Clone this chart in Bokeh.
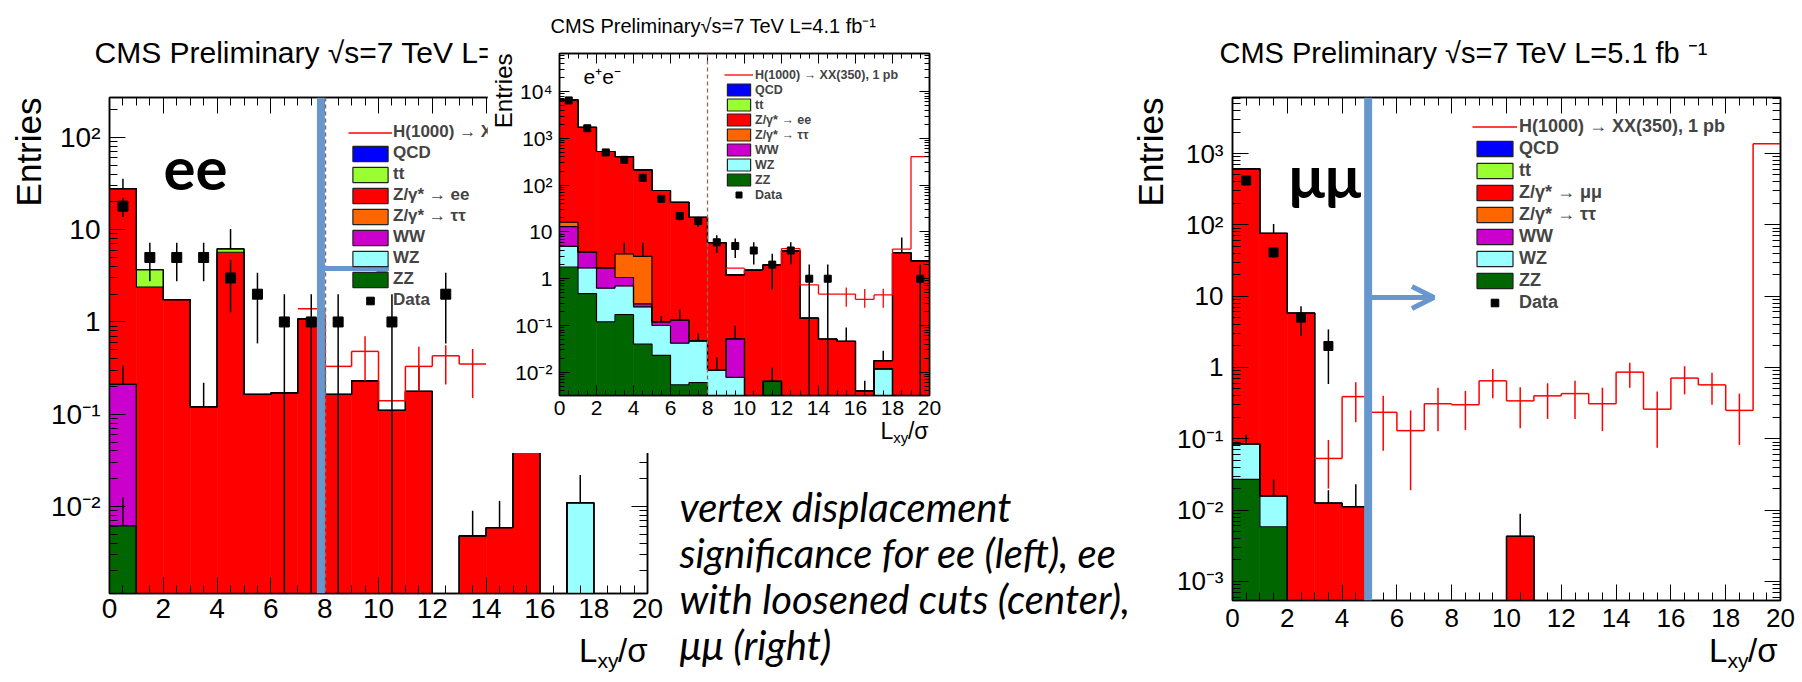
import math
import numpy as np
from bokeh.plotting import figure
from bokeh.models import (ColumnDataSource, FixedTicker, LinearAxis, LogAxis, Range1d,
                          Label, Legend, LegendItem, Span, Arrow, OpenHead,
                          CustomJSTickFormatter)
from bokeh.embed import file_html
from bokeh.resources import INLINE

nan = float("nan")

# ---------------- data ----------------
bin_lo = list(range(20))
x_major = [0, 2, 4, 6, 8, 10, 12, 14, 16, 18, 20]

# ee (left panel)
ee_ZZ  = [0.0062, 0, 0, 0, 0, 0, 0, 0, 0, 0, 0, 0, 0, 0, 0, 0, 0, 0, 0, 0]
ee_WZ  = [0, 0, 0, 0, 0, 0, 0, 0, 0, 0, 0, 0, 0, 0, 0, 0, 0, 0.011, 0, 0]
ee_WW  = [0.204, 0, 0, 0, 0, 0, 0, 0, 0, 0, 0, 0, 0, 0, 0, 0, 0, 0, 0, 0]
ee_Ztt = [0, 0, 0, 0, 0, 0, 0, 0, 0, 0, 0, 0, 0, 0, 0, 0, 0, 0, 0, 0]
ee_Zll = [27.6, 2.38, 1.75, 0.12, 5.7, 0.164, 0.17, 1.08, 0.164, 0.23, 0.11, 0.177, 0, 0.0048, 0.0059, 0.06, 0, 0, 0, 0]
ee_tt  = [0, 1.3, 0, 0, 0.5, 0, 0, 0, 0, 0, 0, 0, 0, 0, 0, 0, 0, 0, 0, 0]
ee_QCD = [0, 0, 0, 0, 0, 0, 0, 0, 0, 0, 0, 0, 0, 0, 0, 0, 0, 0, 0, 0]
ee_data = [18, 5, 5, 5, 3, 2, 1, 1, 1, 0, 1, 0, 2, 0, 0, 0, 0, 0, 0, 0]
ee_sig    = [nan, nan, nan, nan, nan, nan, nan, 1.39, 0.33, 0.48, 0.14, 0.33, 0.43, 0.35, nan, nan, nan, nan, nan, nan]
ee_sig_lo = [nan, nan, nan, nan, nan, nan, nan, nan, nan, 0.23, nan, 0.18, 0.21, 0.15, nan, nan, nan, nan, nan, nan]
ee_sig_hi = [nan, nan, nan, nan, nan, nan, nan, nan, nan, 0.70, nan, 0.54, 0.56, 0.51, nan, nan, nan, nan, nan, nan]
ee_mc_x  = [0.5, 0.5, 0.5, 3.5, 4.5, 11.5, 13.5, 14.5, 17.5]
ee_mc_lo = [0.0062, 0.21, 27.8, 0.12, 6.2, 0.177, 0.0048, 0.0059, 0.011]
ee_mc_hi = [0.0125, 0.34, 35.6, 0.22, 10.2, 0.33, 0.009, 0.0115, 0.022]

# e+e- loosened cuts (centre panel)
ll_ZZ  = [1.76, 0.48, 0.12, 0.17, 0.04, 0.023, 0.0054, 0.006, 0, 0, 0, 0.0064, 0, 0, 0, 0, 0, 0, 0, 0]
ll_WZ  = [3.14, 1.22, 0.51, 0.53, 0.21, 0.077, 0.0366, 0.041, 0.011, 0.0078, 0, 0, 0, 0, 0, 0, 0, 0.0118, 0, 0]
ll_WW  = [8.1, 2.0, 1.07, 0.36, 0.04, 0.02, 0.088, 0, 0, 0.044, 0, 0, 0, 0, 0, 0, 0, 0, 0, 0]
ll_Ztt = [3.1, 0, 0, 2.34, 2.71, 0, 0, 0, 0, 0, 0, 0, 0, 0, 0, 0, 0, 0, 0, 0]
ll_Zll = [6634, 1721, 521, 404.6, 209, 76.6, 42.9, 20.5, 5.9, 1.16, 1.52, 1.97, 3.94, 0.143, 0.051, 0.046, 0.004, 0.006, 3.6, 2.4]
ll_tt  = [0, 0, 0, 0, 0, 0, 0, 0, 0, 0, 0, 0, 0, 0, 0, 0, 0, 0, 0, 0]
ll_QCD = [0, 0, 0, 0, 0, 0, 0, 0, 0, 0, 0, 0, 0, 0, 0, 0, 0, 0, 0, 0]
ll_data = [6460, 1640, 500, 347, 143, 51, 22, 17, 6, 5, 4, 2, 4, 1, 1, 0, 0, 0, 0, 1]
ll_sig    = [nan, nan, nan, nan, nan, nan, nan, nan, nan, 1.68, 1.3, 1.5, 4.4, 0.74, 0.47, 0.47, 0.36, 0.45, 4.3, 408]
ll_sig_lo = [nan, nan, nan, nan, nan, nan, nan, nan, nan, nan, nan, nan, nan, nan, nan, 0.25, 0.24, 0.24, nan, nan]
ll_sig_hi = [nan, nan, nan, nan, nan, nan, nan, nan, nan, nan, nan, nan, nan, nan, nan, 0.65, 0.60, 0.61, nan, nan]
ll_mc_x  = [3.5, 4.5, 5.5, 6.5, 7.5, 8.5, 9.5, 11.5, 15.5, 16.5, 17.5, 18.5]
ll_mc_lo = [3.4, 3.0, 0.12, 0.13, 0.047, 0.011, 0.052, 0.0064, 0.046, 0.004, 0.0178, 3.6]
ll_mc_hi = [5.9, 5.9, 0.16, 0.22, 0.068, 0.021, 0.099, 0.0127, 0.091, 0.0066, 0.029, 7.6]

# mu mu (right panel)
mm_ZZ  = [0.027, 0.0058, 0, 0, 0, 0, 0, 0, 0, 0, 0, 0, 0, 0, 0, 0, 0, 0, 0, 0]
mm_WZ  = [0.058, 0.010, 0, 0, 0, 0, 0, 0, 0, 0, 0, 0, 0, 0, 0, 0, 0, 0, 0, 0]
mm_WW  = [0, 0, 0, 0, 0, 0, 0, 0, 0, 0, 0, 0, 0, 0, 0, 0, 0, 0, 0, 0]
mm_Ztt = [0, 0, 0, 0, 0, 0, 0, 0, 0, 0, 0, 0, 0, 0, 0, 0, 0, 0, 0, 0]
mm_Zll = [610, 76, 5.8, 0.0125, 0.0112, 0, 0, 0, 0, 0, 0.0043, 0, 0, 0, 0, 0, 0, 0, 0, 0]
mm_tt  = [0, 0, 0, 0, 0, 0, 0, 0, 0, 0, 0, 0, 0, 0, 0, 0, 0, 0, 0, 0]
mm_QCD = [0, 0, 0, 0, 0, 0, 0, 0, 0, 0, 0, 0, 0, 0, 0, 0, 0, 0, 0, 0]
mm_data = [418, 41, 5, 2, 0, 0, 0, 0, 0, 0, 0, 0, 0, 0, 0, 0, 0, 0, 0, 0]
mm_sig    = [nan, nan, nan, 0.053, 0.39, 0.235, 0.13, 0.31, 0.30, 0.65, 0.34, 0.40, 0.43, 0.31, 0.86, 0.26, 0.71, 0.57, 0.25, 1370]
mm_sig_lo = [nan, nan, nan, 0.020, 0.17, 0.068, 0.019, 0.128, 0.133, 0.37, 0.14, 0.19, 0.19, 0.128, 0.52, 0.075, 0.42, 0.30, 0.082, nan]
mm_sig_hi = [nan, nan, nan, 0.096, 0.62, 0.40, 0.25, 0.52, 0.47, 0.95, 0.53, 0.60, 0.65, 0.52, 1.16, 0.46, 1.04, 0.84, 0.43, nan]
mm_mc_x  = [0.5, 1.5, 1.5, 3.5, 4.5, 10.5]
mm_mc_lo = [0.085, 0.0158, 76, 0.0125, 0.0112, 0.0043]
mm_mc_hi = [0.115, 0.027, 103, 0.019, 0.023, 0.0089]

legend_sig = "H(1000) \u2192 XX(350), 1 pb"

# ---------------- style ----------------
ORDER = ["ZZ", "WZ", "WW", "Ztt", "Zll", "tt", "QCD"]
COLORS = {"QCD": "#0000ff", "tt": "#99ff33", "Zll": "#ff0000", "Ztt": "#ff6600",
          "WW": "#cc00cc", "WZ": "#99ffff", "ZZ": "#006600"}
BLUE = "#6797cc"
FLOOR = 1e-9
ROOTFONT = "Liberation Sans"
PAGE_W, PAGE_H = 1802, 682

POW_JS = """
const e = Math.round(Math.log10(tick));
if (e === 0) return '1';
if (e === 1) return '10';
const sup = {'-':'\u207b','0':'\u2070','1':'\u00b9','2':'\u00b2','3':'\u00b3','4':'\u2074','5':'\u2075','6':'\u2076','7':'\u2077','8':'\u2078','9':'\u2079'};
return '10' + String(e).split('').map(c => sup[c]).join('');
"""


def log_minor(lo_dec, hi_dec):
    return [k * 10.0 ** d for d in range(lo_dec, hi_dec + 1) for k in range(2, 10)]


def make_fig(fig, frame, yr, transparent=False):
    fl, ft, fw, fh = fig
    l, t, r, b = frame
    p = figure(frame_width=r - l, frame_height=b - t,
               min_border_left=l - fl, min_border_top=t - ft,
               min_border_right=fl + fw - r, min_border_bottom=ft + fh - b,
               x_range=Range1d(0, 20), y_range=Range1d(*yr), y_axis_type="log",
               output_backend="svg", toolbar_location=None)
    p.grid.visible = False
    p.outline_line_color = "black"
    p.outline_line_width = 1.5
    p.background_fill_color = "white"
    p.border_fill_color = None if transparent else "white"
    p.styles = {"position": "absolute", "left": f"{fl}px", "top": f"{ft}px"}
    return p


def style_axes(p, yticks, yminor, fs, maj, mnr, xstand, ystand):
    xa = p.xaxis[0]
    ya = p.yaxis[0]
    xa.ticker = FixedTicker(ticks=x_major, minor_ticks=[i * 0.5 for i in range(41)])
    ya.ticker = FixedTicker(ticks=yticks, minor_ticks=yminor)
    ya.formatter = CustomJSTickFormatter(code=POW_JS)
    top = LinearAxis(ticker=FixedTicker(ticks=x_major, minor_ticks=[i * 0.5 for i in range(41)]))
    right = LogAxis(ticker=FixedTicker(ticks=yticks, minor_ticks=yminor))
    for ax in (top, right):
        ax.major_label_text_color = None
        ax.major_label_text_font_size = "1px"
        ax.major_label_standoff = 0
    for ax in (xa, ya, top, right):
        ax.major_tick_in = maj
        ax.major_tick_out = 0
        ax.minor_tick_in = mnr
        ax.minor_tick_out = 0
        ax.axis_line_color = "black"
        ax.axis_line_width = 1.5
        ax.major_tick_line_color = "black"
        ax.minor_tick_line_color = "black"
        ax.major_tick_line_width = 1
        ax.minor_tick_line_width = 1
    for ax in (xa, ya):
        ax.major_label_text_font = ROOTFONT
        ax.major_label_text_font_size = f"{fs}px"
        ax.major_label_text_color = "black"
    xa.major_label_standoff = xstand
    ya.major_label_standoff = ystand
    p.add_layout(top, "above")
    p.add_layout(right, "right")


def draw_stack(p, comps):
    lo = np.array(bin_lo, float)
    cum = np.zeros(20)
    tops = []
    proxies = {}
    for name in ORDER:
        v = np.array(comps[name], float)
        bottom = cum.copy()
        cum = cum + v
        m = v > 0
        src = ColumnDataSource(dict(left=lo[m], right=lo[m] + 1,
                                    bottom=np.maximum(bottom[m], FLOOR), top=cum[m]))
        p.quad(left="left", right="right", bottom="bottom", top="top", source=src,
               fill_color=COLORS[name], line_color=COLORS[name], line_width=0.6)
        tops.append(cum.copy())
    for t in tops:
        y = np.where(t > 0, t, FLOOR)
        p.step(x=list(range(21)), y=list(y) + [y[-1]], mode="after",
               line_color="black", line_width=1.2)
    # legend swatches (one zero-height row far below the axis, never visible in the plot)
    for name in ORDER:
        proxies[name] = p.quad(left=[0], right=[1], bottom=[FLOOR], top=[FLOOR],
                               fill_color=COLORS[name], line_color="#222222", line_width=1.2)
    return proxies


def draw_mc_err(p, xs, los, his):
    p.segment(x0=xs, x1=xs, y0=los, y1=his, line_color="black", line_width=1.5)


def draw_signal(p, sig, slo, shi, lw):
    s = np.array(sig, float)
    lo = np.array(bin_lo, float)
    m = np.isfinite(s)
    r = p.segment(x0=lo[m], x1=lo[m] + 1, y0=s[m], y1=s[m], line_color="#ff0000", line_width=lw)
    cx, c0, c1 = [], [], []
    for i in range(19):
        if np.isfinite(s[i]) and np.isfinite(s[i + 1]):
            cx.append(i + 1)
            c0.append(s[i])
            c1.append(s[i + 1])
    p.segment(x0=cx, x1=cx, y0=c0, y1=c1, line_color="#ff0000", line_width=lw)
    el = np.array(slo, float)
    eh = np.array(shi, float)
    me = np.isfinite(el) & np.isfinite(eh)
    p.segment(x0=lo[me] + 0.5, x1=lo[me] + 0.5, y0=el[me], y1=eh[me],
              line_color="#ff0000", line_width=lw)
    return r


def draw_data(p, data, size):
    n = np.array(data, float)
    m = n > 0
    xs = np.array(bin_lo, float)[m] + 0.5
    nn = n[m]
    err = np.sqrt(nn)
    p.segment(x0=xs, x1=xs, y0=np.maximum(nn - err, FLOOR), y1=nn + err,
              line_color="black", line_width=1.5)
    return p.scatter(x=xs, y=nn, marker="square", size=size, color="black")


def add_legend(p, sig_r, proxies, data_r, zname, loc, gw, gh, fs, stand, spacing):
    labels = [legend_sig, "QCD", "tt", zname, "Z/\u03b3* \u2192 \u03c4\u03c4", "WW", "WZ", "ZZ", "Data"]
    rends = [sig_r, proxies["QCD"], proxies["tt"], proxies["Zll"], proxies["Ztt"],
             proxies["WW"], proxies["WZ"], proxies["ZZ"], data_r]
    items = [LegendItem(label=lab, renderers=[r]) for lab, r in zip(labels, rends)]
    leg = Legend(items=items, location=loc, padding=0, margin=0, spacing=spacing,
                 glyph_width=gw, glyph_height=gh, label_height=gh, label_standoff=stand,
                 label_text_font=ROOTFONT, label_text_font_style="bold",
                 label_text_font_size=f"{fs}px", border_line_color=None,
                 background_fill_alpha=0)
    p.add_layout(leg)


def put(p, F, x, y, text, size, font=ROOTFONT, style="normal", align="left",
        baseline="middle", angle=0.0):
    p.add_layout(Label(x=x - F[0], y=F[3] - y, x_units="screen", y_units="screen",
                       text=text, text_font=font, text_font_size=f"{size}px",
                       text_font_style=style, text_align=align, text_baseline=baseline,
                       angle=angle, text_color="black"))


def text_layer():
    t = figure(frame_width=PAGE_W, frame_height=PAGE_H, min_border=0,
               x_range=Range1d(0, PAGE_W), y_range=Range1d(0, PAGE_H),
               x_axis_type=None, y_axis_type=None, output_backend="svg", toolbar_location=None)
    t.grid.visible = False
    t.outline_line_color = None
    t.background_fill_color = None
    t.border_fill_color = None
    t.styles = {"position": "absolute", "left": "0px", "top": "0px"}
    return t


FT = (0, 0, PAGE_W, PAGE_H)


def lxy(layer, right_x, cy, big, small):
    put(layer, FT, right_x, cy, "/\u03c3", big, align="right")
    w_sig = 0.88 * big
    put(layer, FT, right_x - w_sig, cy + 0.3 * big, "xy", small, align="right")
    w_xy = 1.0 * small
    put(layer, FT, right_x - w_sig - w_xy, cy, "L", big, align="right")


# ================= left panel (ee) =================
FL = (109, 97, 647, 593)
pL = make_fig((0, 0, 1170, 682), FL, (1.14e-3, 271))
style_axes(pL, [1e-2, 1e-1, 1, 10, 100], log_minor(-3, 2), 28, 16, 8, 5, 9)
prox = draw_stack(pL, dict(ZZ=ee_ZZ, WZ=ee_WZ, WW=ee_WW, Ztt=ee_Ztt, Zll=ee_Zll, tt=ee_tt, QCD=ee_QCD))
draw_mc_err(pL, ee_mc_x, ee_mc_lo, ee_mc_hi)
sigL = draw_signal(pL, ee_sig, ee_sig_lo, ee_sig_hi, 1.5)
datL = draw_data(pL, ee_data, 10)
add_legend(pL, sigL, prox, datL, "Z/\u03b3* \u2192 ee", (348 - 109, 283), 44, 19, 17, 1, 1)
pL.add_layout(Span(location=8.03, dimension="height", line_color="#8c6a5d", line_dash="4 3", line_width=1.5))
pL.add_layout(Span(location=7.86, dimension="height", line_color=BLUE, line_width=8))
pL.add_layout(Arrow(end=OpenHead(size=22, line_color=BLUE, line_width=5),
                    x_start=7.86, y_start=3.8, x_end=10.35, y_end=3.8,
                    line_color=BLUE, line_width=5))
put(pL, FL, 163, 168, "ee", 60, font="Lato", style="bold")

# texts of the left panel lie below the centre inset
pT1 = text_layer()
put(pT1, FT, 94, 52, "CMS Preliminary  \u221As=7 TeV L=", 30)
put(pT1, FT, 28, 97, "Entries", 35, align="right", angle=math.pi / 2)
lxy(pT1, 647, 650, 33, 21)

# ================= centre inset (e+e-, loosened) =================
FI = (559, 53, 929, 395)
pI = make_fig((487, 0, 470, 453), FI, (3.19e-3, 6.5e4))
style_axes(pI, [1e-2, 1e-1, 1, 10, 100, 1e3, 1e4], log_minor(-3, 4), 21, 10, 5, 5, 7)
prox = draw_stack(pI, dict(ZZ=ll_ZZ, WZ=ll_WZ, WW=ll_WW, Ztt=ll_Ztt, Zll=ll_Zll, tt=ll_tt, QCD=ll_QCD))
draw_mc_err(pI, ll_mc_x, ll_mc_lo, ll_mc_hi)
sigI = draw_signal(pI, ll_sig, ll_sig_lo, ll_sig_hi, 1.3)
datI = draw_data(pI, ll_data, 7)
add_legend(pI, sigI, prox, datI, "Z/\u03b3* \u2192 ee", (724 - 559, 193), 29, 15, 12.5, 2, 0)
pI.add_layout(Span(location=8, dimension="height", line_color="#8c6a5d", line_dash="4 3", line_width=1.3))
put(pI, FI, 583, 76, "e\u207ae\u207b", 21)

# ================= right panel (mu mu) =================
FR = (1232, 97, 1780, 600)
pR = make_fig((1100, 0, 702, 682), FR, (5.4e-4, 6100), transparent=True)
style_axes(pR, [1e-3, 1e-2, 1e-1, 1, 10, 100, 1e3], log_minor(-4, 3), 26, 16, 8, 8, 9)
prox = draw_stack(pR, dict(ZZ=mm_ZZ, WZ=mm_WZ, WW=mm_WW, Ztt=mm_Ztt, Zll=mm_Zll, tt=mm_tt, QCD=mm_QCD))
draw_mc_err(pR, mm_mc_x, mm_mc_lo, mm_mc_hi)
sigR = draw_signal(pR, mm_sig, mm_sig_lo, mm_sig_hi, 1.5)
datR = draw_data(pR, mm_data, 9)
add_legend(pR, sigR, prox, datR, "Z/\u03b3* \u2192 \u03bc\u03bc", (1472 - 1232, 287), 45, 19, 18, 2, 1)
pR.add_layout(Span(location=4.95, dimension="height", line_color=BLUE, line_width=8))
pR.add_layout(Arrow(end=OpenHead(size=22, line_color=BLUE, line_width=5),
                    x_start=4.95, y_start=9.55, x_end=7.35, y_end=9.55,
                    line_color=BLUE, line_width=5))
put(pR, FR, 1288, 174, "\u03bc\u03bc", 60, font="Lato", style="bold")

# ================= top text layer (inset / right titles, caption) =================
pT2 = text_layer()
put(pT2, FT, 550, 25, "CMS Preliminary\u221As=7 TeV L=4.1 fb\u207b\u00b9", 20)
put(pT2, FT, 503, 53, "Entries", 24, align="right", angle=math.pi / 2)
lxy(pT2, 928, 430, 23, 15)
put(pT2, FT, 1219, 52, "CMS Preliminary \u221As=7 TeV L=5.1 fb \u207b\u00b9", 29)
put(pT2, FT, 1150, 97, "Entries", 35, align="right", angle=math.pi / 2)
lxy(pT2, 1777, 650, 33, 21)
put(pT2, FT, 679, 506, "vertex displacement", 40, font="Lato", style="italic")
put(pT2, FT, 679, 552, "significance for ee (left), ee", 40, font="Lato", style="italic")
put(pT2, FT, 679, 598, "with loosened cuts (center),", 40, font="Lato", style="italic")
put(pT2, FT, 679, 644, "\u03bc\u03bc (right)", 40, font="Lato", style="italic")

open("out.html", "w").write(file_html([pL, pT1, pI, pR, pT2], INLINE))
